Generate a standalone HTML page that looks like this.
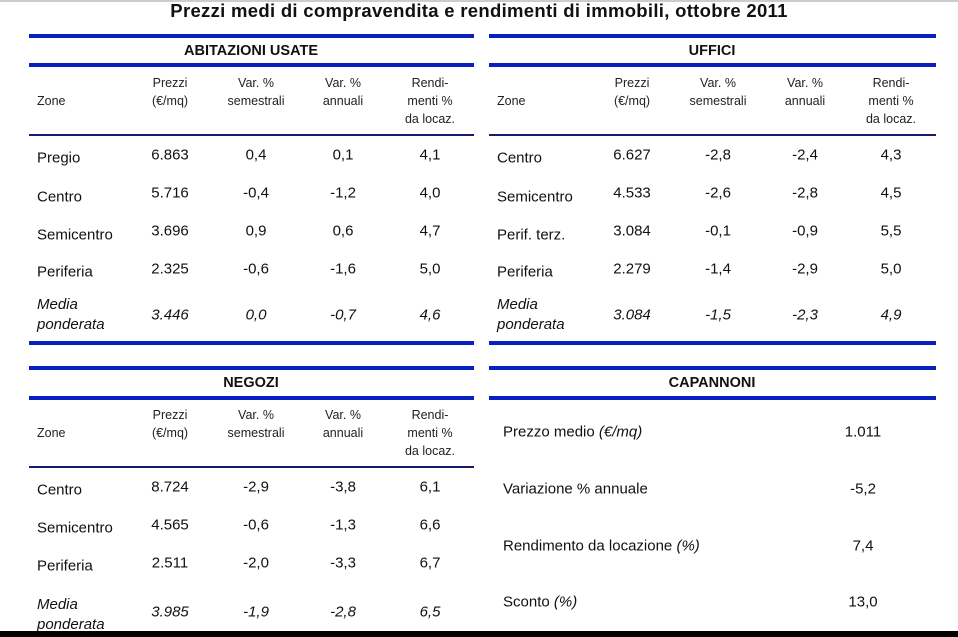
<!DOCTYPE html>
<html><head><meta charset="utf-8"><style>
body{margin:0;width:958px;height:637px;background:#fff;position:relative;overflow:hidden;font-family:"Liberation Sans",sans-serif;color:#111}
div{position:absolute;white-space:nowrap}
.c{transform:translate(-50%,-50%);text-align:center}
.l{transform:translateY(-50%)}
.b{background:#0a1fbf;height:4px}
.t{background:#1a1a70;height:2px}
.h{font-size:12.5px;line-height:18px;color:#222}
.d{font-size:15px}
.i{font-style:italic}
.ti{font-weight:bold;font-size:14.5px}
</style></head><body>
<div style="left:0;top:0;width:958px;height:2px;background:#ccc"></div>
<div class="c" style="left:479px;top:11px;font-weight:bold;font-size:18.5px;letter-spacing:0.3px">Prezzi medi di compravendita e rendimenti di immobili, ottobre 2011</div>

<!-- left top -->
<div class="b" style="left:29px;top:34px;width:445px"></div>
<div class="c ti" style="left:251px;top:51px">ABITAZIONI USATE</div>
<div class="b" style="left:29px;top:63px;width:445px"></div>
<div class="l h" style="left:37px;top:101px">Zone</div>
<div class="c h" style="left:170px;top:92px">Prezzi<br>(€/mq)</div>
<div class="c h" style="left:256px;top:92px">Var. %<br>semestrali</div>
<div class="c h" style="left:343px;top:92px">Var. %<br>annuali</div>
<div class="c h" style="left:430px;top:101px">Rendi-<br>menti %<br>da locaz.</div>
<div class="t" style="left:29px;top:134px;width:445px"></div>
<div class="l d" style="left:37px;top:158px">Pregio</div><div class="c d" style="left:170px;top:155px">6.863</div><div class="c d" style="left:256px;top:155px">0,4</div><div class="c d" style="left:343px;top:155px">0,1</div><div class="c d" style="left:430px;top:155px">4,1</div>
<div class="l d" style="left:37px;top:197px">Centro</div><div class="c d" style="left:170px;top:193px">5.716</div><div class="c d" style="left:256px;top:193px">-0,4</div><div class="c d" style="left:343px;top:193px">-1,2</div><div class="c d" style="left:430px;top:193px">4,0</div>
<div class="l d" style="left:37px;top:235px">Semicentro</div><div class="c d" style="left:170px;top:231px">3.696</div><div class="c d" style="left:256px;top:231px">0,9</div><div class="c d" style="left:343px;top:231px">0,6</div><div class="c d" style="left:430px;top:231px">4,7</div>
<div class="l d" style="left:37px;top:272px">Periferia</div><div class="c d" style="left:170px;top:269px">2.325</div><div class="c d" style="left:256px;top:269px">-0,6</div><div class="c d" style="left:343px;top:269px">-1,6</div><div class="c d" style="left:430px;top:269px">5,0</div>
<div class="l d i" style="left:37px;top:315px;line-height:20px">Media<br>ponderata</div><div class="c d i" style="left:170px;top:315px">3.446</div><div class="c d i" style="left:256px;top:315px">0,0</div><div class="c d i" style="left:343px;top:315px">-0,7</div><div class="c d i" style="left:430px;top:315px">4,6</div>
<div class="b" style="left:29px;top:341px;width:445px"></div>

<!-- right top -->
<div class="b" style="left:489px;top:34px;width:447px"></div>
<div class="c ti" style="left:712px;top:51px">UFFICI</div>
<div class="b" style="left:489px;top:63px;width:447px"></div>
<div class="l h" style="left:497px;top:101px">Zone</div>
<div class="c h" style="left:632px;top:92px">Prezzi<br>(€/mq)</div>
<div class="c h" style="left:718px;top:92px">Var. %<br>semestrali</div>
<div class="c h" style="left:805px;top:92px">Var. %<br>annuali</div>
<div class="c h" style="left:891px;top:101px">Rendi-<br>menti %<br>da locaz.</div>
<div class="t" style="left:489px;top:134px;width:447px"></div>
<div class="l d" style="left:497px;top:158px">Centro</div><div class="c d" style="left:632px;top:155px">6.627</div><div class="c d" style="left:718px;top:155px">-2,8</div><div class="c d" style="left:805px;top:155px">-2,4</div><div class="c d" style="left:891px;top:155px">4,3</div>
<div class="l d" style="left:497px;top:197px">Semicentro</div><div class="c d" style="left:632px;top:193px">4.533</div><div class="c d" style="left:718px;top:193px">-2,6</div><div class="c d" style="left:805px;top:193px">-2,8</div><div class="c d" style="left:891px;top:193px">4,5</div>
<div class="l d" style="left:497px;top:235px">Perif. terz.</div><div class="c d" style="left:632px;top:231px">3.084</div><div class="c d" style="left:718px;top:231px">-0,1</div><div class="c d" style="left:805px;top:231px">-0,9</div><div class="c d" style="left:891px;top:231px">5,5</div>
<div class="l d" style="left:497px;top:272px">Periferia</div><div class="c d" style="left:632px;top:269px">2.279</div><div class="c d" style="left:718px;top:269px">-1,4</div><div class="c d" style="left:805px;top:269px">-2,9</div><div class="c d" style="left:891px;top:269px">5,0</div>
<div class="l d i" style="left:497px;top:315px;line-height:20px">Media<br>ponderata</div><div class="c d i" style="left:632px;top:315px">3.084</div><div class="c d i" style="left:718px;top:315px">-1,5</div><div class="c d i" style="left:805px;top:315px">-2,3</div><div class="c d i" style="left:891px;top:315px">4,9</div>
<div class="b" style="left:489px;top:341px;width:447px"></div>

<!-- left bottom -->
<div class="b" style="left:29px;top:366px;width:445px"></div>
<div class="c ti" style="left:251px;top:383px">NEGOZI</div>
<div class="b" style="left:29px;top:396px;width:445px"></div>
<div class="l h" style="left:37px;top:433px">Zone</div>
<div class="c h" style="left:170px;top:424px">Prezzi<br>(€/mq)</div>
<div class="c h" style="left:256px;top:424px">Var. %<br>semestrali</div>
<div class="c h" style="left:343px;top:424px">Var. %<br>annuali</div>
<div class="c h" style="left:430px;top:433px">Rendi-<br>menti %<br>da locaz.</div>
<div class="t" style="left:29px;top:466px;width:445px"></div>
<div class="l d" style="left:37px;top:490px">Centro</div><div class="c d" style="left:170px;top:487px">8.724</div><div class="c d" style="left:256px;top:487px">-2,9</div><div class="c d" style="left:343px;top:487px">-3,8</div><div class="c d" style="left:430px;top:487px">6,1</div>
<div class="l d" style="left:37px;top:528px">Semicentro</div><div class="c d" style="left:170px;top:525px">4.565</div><div class="c d" style="left:256px;top:525px">-0,6</div><div class="c d" style="left:343px;top:525px">-1,3</div><div class="c d" style="left:430px;top:525px">6,6</div>
<div class="l d" style="left:37px;top:566px">Periferia</div><div class="c d" style="left:170px;top:563px">2.511</div><div class="c d" style="left:256px;top:563px">-2,0</div><div class="c d" style="left:343px;top:563px">-3,3</div><div class="c d" style="left:430px;top:563px">6,7</div>
<div class="l d i" style="left:37px;top:615px;line-height:20px">Media<br>ponderata</div><div class="c d i" style="left:170px;top:612px">3.985</div><div class="c d i" style="left:256px;top:612px">-1,9</div><div class="c d i" style="left:343px;top:612px">-2,8</div><div class="c d i" style="left:430px;top:612px">6,5</div>

<!-- right bottom -->
<div class="b" style="left:489px;top:366px;width:447px"></div>
<div class="c ti" style="left:712px;top:383px">CAPANNONI</div>
<div class="b" style="left:489px;top:396px;width:447px"></div>
<div class="l d" style="left:503px;top:432px">Prezzo medio <i>(€/mq)</i></div><div class="c d" style="left:863px;top:432px">1.011</div>
<div class="l d" style="left:503px;top:489px">Variazione % annuale</div><div class="c d" style="left:863px;top:489px">-5,2</div>
<div class="l d" style="left:503px;top:546px">Rendimento da locazione <i>(%)</i></div><div class="c d" style="left:863px;top:546px">7,4</div>
<div class="l d" style="left:503px;top:602px">Sconto <i>(%)</i></div><div class="c d" style="left:863px;top:602px">13,0</div>

<div style="left:0;top:631px;width:958px;height:6px;background:#000"></div>
</body></html>
